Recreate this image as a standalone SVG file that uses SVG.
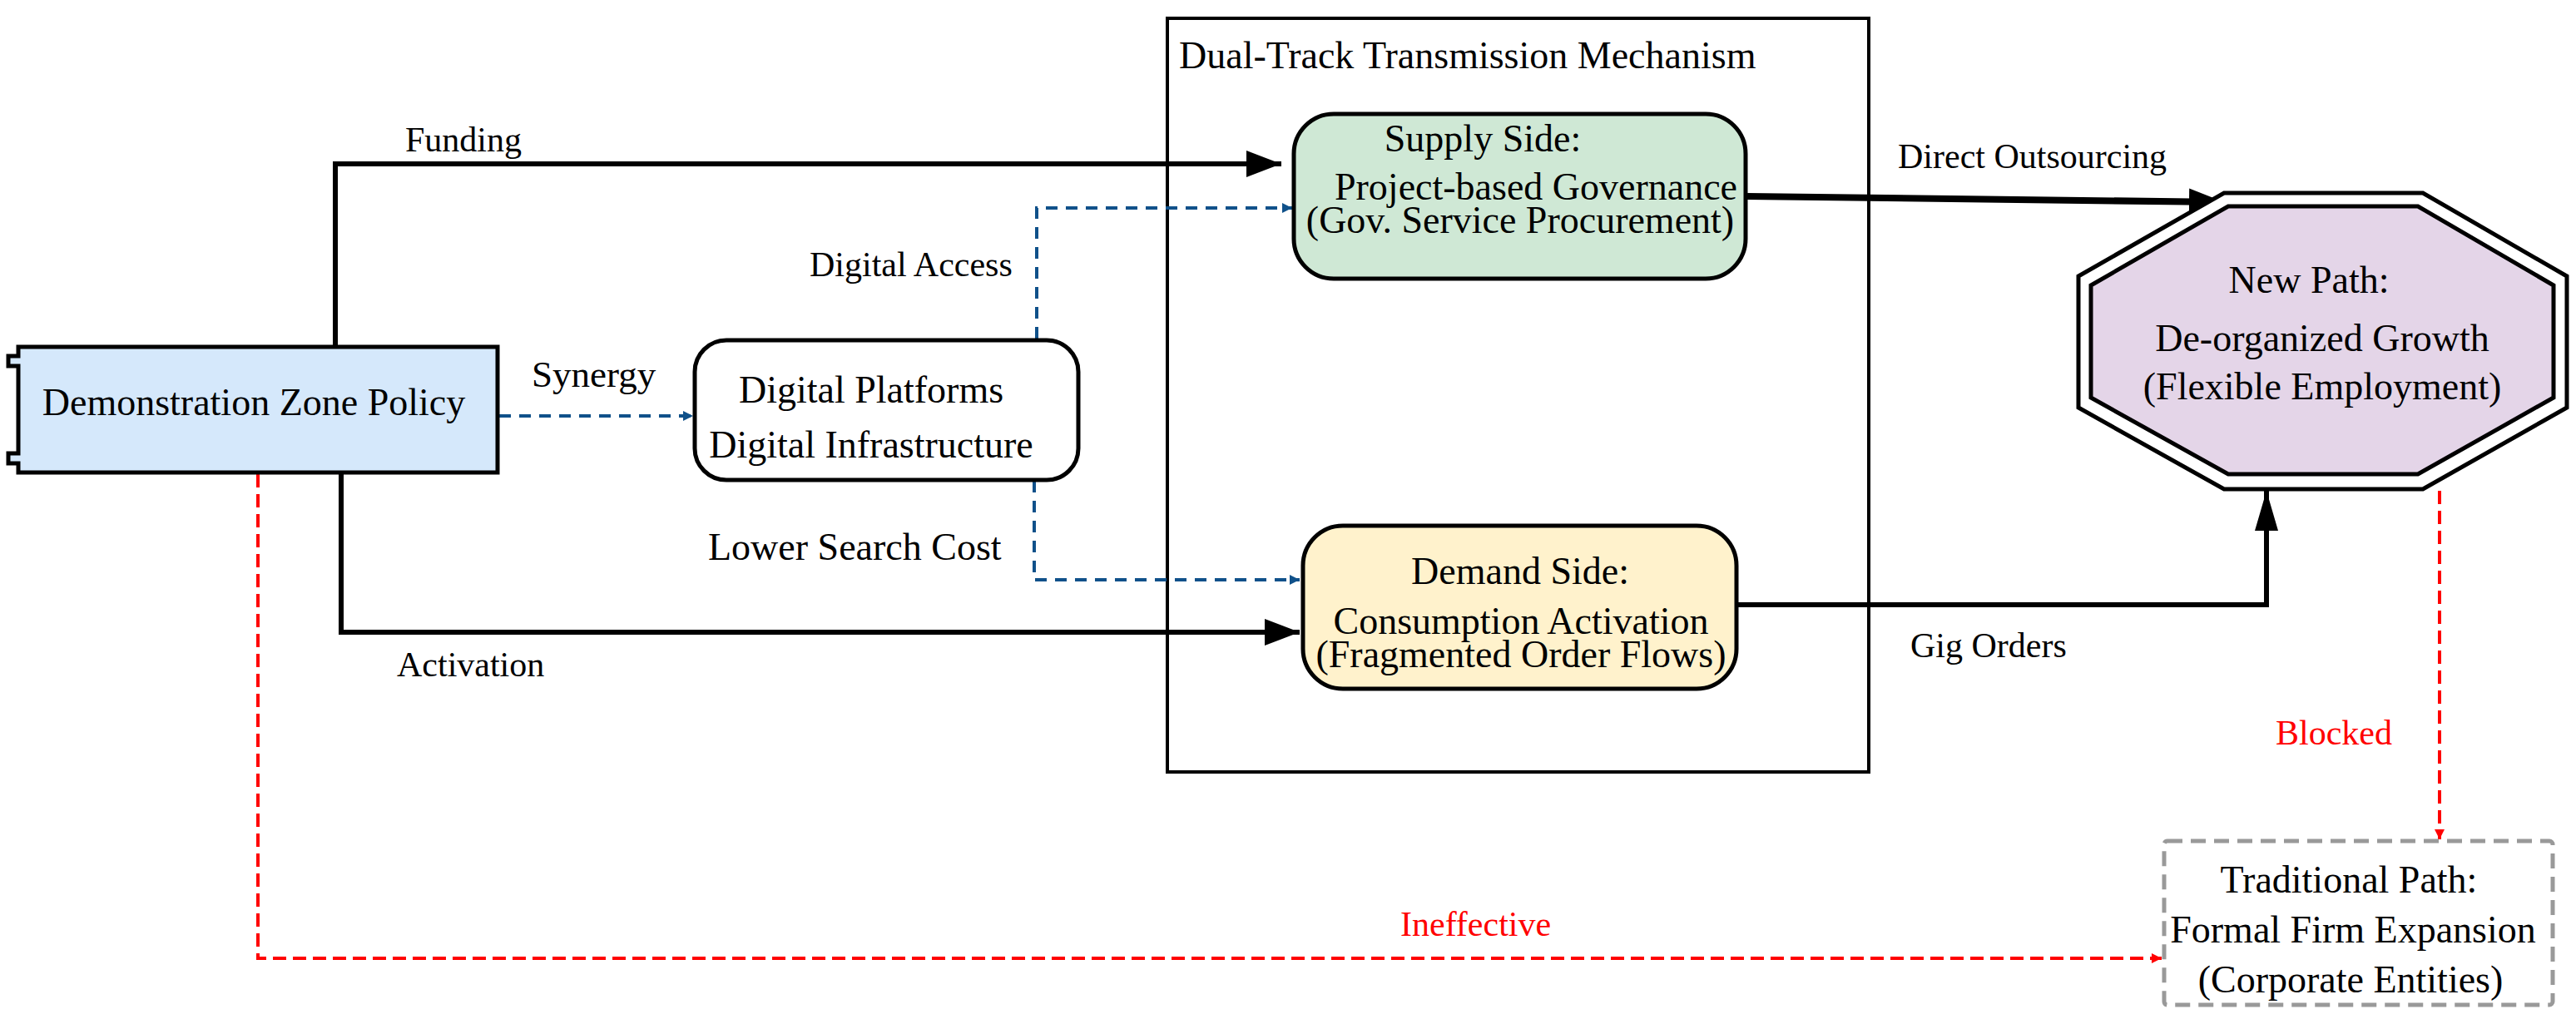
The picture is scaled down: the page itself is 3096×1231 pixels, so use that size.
<svg xmlns="http://www.w3.org/2000/svg" width="3096" height="1231" viewBox="0 0 3096 1231">
<style>
  text { font-family: "Liberation Serif", "Times New Roman", serif; fill: #000; }
  .n { font-size: 46px; text-anchor: middle; }
  .lbl { font-size: 42px; }
  .red { fill: #ff0000; }
  .solid { fill: none; stroke: #000; stroke-width: 6; }
  .thick { fill: none; stroke: #000; stroke-width: 8; }
  .blue { fill: none; stroke: #10518a; stroke-width: 4; stroke-dasharray: 14 10; }
  .reddash { fill: none; stroke: #ff0000; stroke-width: 4; stroke-dasharray: 16 8; }
  .box { stroke: #000; stroke-width: 5; }
</style>
<defs>
  <marker id="ab" markerUnits="userSpaceOnUse" markerWidth="46" markerHeight="36" refX="42" refY="17" orient="auto">
    <path d="M0,1 L42,17 L0,33 z" fill="#000"/>
  </marker>
  <marker id="abu" markerUnits="userSpaceOnUse" markerWidth="50" markerHeight="32" refX="48" refY="15" orient="auto">
    <path d="M0,1 L48,15 L0,29 z" fill="#000"/>
  </marker>
  <marker id="bl" markerUnits="userSpaceOnUse" markerWidth="14" markerHeight="14" refX="12" refY="7" orient="auto">
    <path d="M0,1 L12,7 L0,13 z" fill="#10518a"/>
  </marker>
  <marker id="rd" markerUnits="userSpaceOnUse" markerWidth="14" markerHeight="14" refX="12" refY="7" orient="auto">
    <path d="M0,1 L12,7 L0,13 z" fill="#ff0000"/>
  </marker>
</defs>

<g id="container">
  <rect x="1403" y="22" width="843" height="906" fill="none" stroke="#000" stroke-width="4"/>
  <text x="1417" y="82" style="font-size:46px">Dual-Track Transmission Mechanism</text>
</g>

<g id="connectors">
  <path class="solid" d="M403,419 L403,197 L1540,197" marker-end="url(#ab)"/>
  <path class="solid" d="M410,566 L410,760 L1562,760" marker-end="url(#ab)"/>
  <path class="blue" d="M600,500 L833,500" marker-end="url(#bl)"/>
  <path class="blue" d="M1246,407 L1246,250 L1553,250" marker-end="url(#bl)"/>
  <path class="blue" d="M1243,578 L1243,697 L1562,697" marker-end="url(#bl)"/>
  <path class="thick" d="M2100,236 L2673,243" marker-end="url(#ab)"/>
  <path class="solid" d="M2089,727 L2724,727 L2724,590" marker-end="url(#abu)"/>
  <path class="reddash" d="M310,570 L310,1152 L2598,1152" marker-end="url(#rd)"/>
  <path class="reddash" d="M2932,590 L2932,1009" marker-end="url(#rd)"/>
  <text class="lbl" x="487" y="182">Funding</text>
  <text x="639" y="465" style="font-size:45px">Synergy</text>
  <text class="lbl" x="973" y="332">Digital Access</text>
  <text x="851" y="673" style="font-size:46px">Lower Search Cost</text>
  <text class="lbl" x="477" y="813">Activation</text>
  <text class="lbl" x="2281" y="202">Direct Outsourcing</text>
  <text class="lbl" x="2296" y="790">Gig Orders</text>
  <text class="lbl red" x="2735" y="895">Blocked</text>
  <text class="lbl red" x="1683" y="1125">Ineffective</text>
</g>

<g id="demo-zone-policy">
  <path class="box" fill="#d5e8fb" d="M22,417 L598,417 L598,568 L22,568 L22,557 L10,557 L10,545 L22,545 L22,440 L10,440 L10,428 L22,428 Z"/>
  <text class="n" x="305" y="499">Demonstration Zone Policy</text>
</g>

<g id="digital-platforms">
  <rect class="box" x="835" y="409" width="461" height="168" rx="38" fill="#fff"/>
  <text class="n" x="1047" y="484">Digital Platforms</text>
  <text class="n" x="1047" y="550">Digital Infrastructure</text>
</g>

<g id="supply-side">
  <rect class="box" x="1555" y="137" width="543" height="198" rx="48" fill="#cfe8d5"/>
  <text class="n" x="1782" y="182">Supply Side:</text>
  <text class="n" x="1846" y="240">Project-based Governance</text>
  <text class="n" x="1827" y="280">(Gov. Service Procurement)</text>
</g>

<g id="demand-side">
  <rect class="box" x="1566" y="632" width="521" height="196" rx="48" fill="#fff2cc"/>
  <text class="n" x="1827" y="702">Demand Side:</text>
  <text class="n" x="1828" y="762">Consumption Activation</text>
  <text class="n" x="1828" y="802">(Fragmented Order Flows)</text>
</g>

<g id="new-path">
  <polygon points="2673,232 2912,232 3085,332 3085,490 2912,588 2673,588 2498,490 2498,332" fill="#fff" stroke="#000" stroke-width="5"/>
  <polygon points="2678,248 2906,248 3069,343 3069,478 2906,570 2678,570 2513,478 2513,343" fill="#e4d5e8" stroke="#000" stroke-width="5"/>
  <text class="n" x="2775" y="352">New Path:</text>
  <text class="n" x="2791" y="422">De-organized Growth</text>
  <text class="n" x="2791" y="480">(Flexible Employment)</text>
</g>

<g id="traditional-path">
  <rect x="2601" y="1011" width="467" height="197" rx="4" fill="#fff" stroke="#999" stroke-width="5" stroke-dasharray="18 10"/>
  <text class="n" x="2823" y="1073">Traditional Path:</text>
  <text class="n" x="2828" y="1133">Formal Firm Expansion</text>
  <text class="n" x="2825" y="1193">(Corporate Entities)</text>
</g>
</svg>
